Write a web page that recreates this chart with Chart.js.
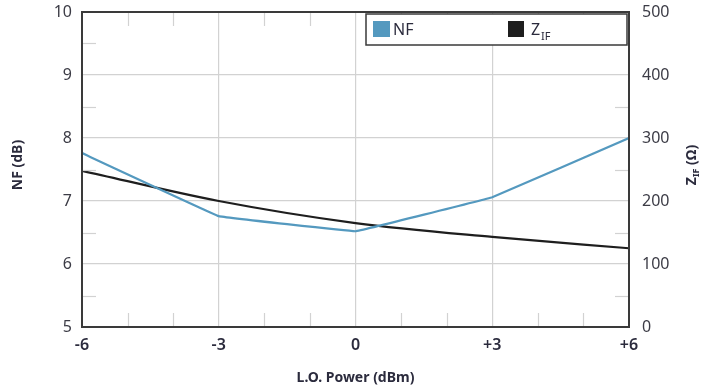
<!DOCTYPE html>
<html>
<head>
<meta charset="utf-8">
<script src="https://cdn.jsdelivr.net/npm/chart.js@4.4.1/dist/chart.umd.min.js"></script>
<style>
  html, body { margin: 0; padding: 0; background: #fff; }
  #wrap { width: 703px; height: 389px; position: relative; }
</style>
</head>
<body>
<div id="wrap"><canvas id="c" width="703" height="389"></canvas></div>
<script>
// L.O. power sweep (dBm)
const loPower = [-6, -3, 0, 3, 6];
// Noise figure (dB), left axis
const nfValues = [7.76, 6.76, 6.52, 7.06, 8.0];
// IF impedance (ohms), right axis
const zifValues = [248, 200, 165, 143, 125];
// Tick label values for the x axis
const xTicks = [-6, -3, 0, 3, 6];

const BLUE = '#5499bf';
const BLACK = '#1e1e1e';
const GRID = '#d2d2d2';
const FRAME = '#3a3a3a';
const TEXT = '#2b2b3d';
const TICK = '#3c3c46';
const FONT = "'Noto Sans', 'Open Sans', sans-serif";

function fmtX(v) { return v > 0 ? '+' + v : String(v); }

// keep the plot frame fixed: no extra room reserved for overhanging labels
function fixPadding(s) {
  s.paddingTop = 0; s.paddingBottom = 0; s.paddingLeft = 0; s.paddingRight = 0;
}

// Frame, minor ticks, axis titles and legend
const decor = {
  id: 'decor',
  afterDatasetsDraw(chart) {
    const { ctx, chartArea: a, scales } = chart;
    const x = scales.x, y = scales.y, y2 = scales.y2;
    ctx.save();
    // minor ticks
    ctx.strokeStyle = GRID;
    ctx.lineWidth = 1.2;
    const L = 14;
    [5.5, 6.5, 7.5, 8.5, 9.5].forEach(v => {
      const py = Math.round(y.getPixelForValue(v)) + 0.5;
      ctx.beginPath(); ctx.moveTo(a.left, py); ctx.lineTo(a.left + L, py); ctx.stroke();
    });
    [50, 150, 250, 350, 450].forEach(v => {
      const py = Math.round(y2.getPixelForValue(v)) + 0.5;
      ctx.beginPath(); ctx.moveTo(a.right, py); ctx.lineTo(a.right - L, py); ctx.stroke();
    });
    [-5, -4, -2, -1, 1, 2, 4, 5].forEach(v => {
      const px = Math.round(x.getPixelForValue(v)) + 0.5;
      ctx.beginPath(); ctx.moveTo(px, a.bottom); ctx.lineTo(px, a.bottom - L); ctx.stroke();
      ctx.beginPath(); ctx.moveTo(px, a.top); ctx.lineTo(px, a.top + L); ctx.stroke();
    });
    // frame
    ctx.strokeStyle = FRAME;
    ctx.lineWidth = 2;
    ctx.strokeRect(a.left, a.top, a.right - a.left, a.bottom - a.top);

    // legend
    const lx = 366, ly = 14, lw = 261, lh = 31;
    ctx.fillStyle = '#fff';
    ctx.fillRect(lx, ly, lw, lh);
    ctx.strokeStyle = FRAME;
    ctx.lineWidth = 1.5;
    ctx.strokeRect(lx, ly, lw, lh);
    ctx.fillStyle = BLUE;
    ctx.fillRect(373, 21, 17, 16);
    ctx.fillStyle = BLACK;
    ctx.fillRect(508, 21, 16, 16);
    ctx.fillStyle = TEXT;
    ctx.font = '16px ' + FONT;
    ctx.textBaseline = 'alphabetic';
    ctx.textAlign = 'left';
    ctx.fillText('NF', 393, 35);
    ctx.fillText('Z', 531, 35);
    ctx.font = '11px ' + FONT;
    ctx.fillText('IF', 541, 40);

    // x title
    ctx.font = 'bold 14px ' + FONT;
    ctx.textAlign = 'center';
    ctx.textBaseline = 'middle';
    ctx.fillStyle = TEXT;
    ctx.fillText('L.O. Power (dBm)', (a.left + a.right) / 2, 378);

    // left title
    ctx.save();
    ctx.translate(18, 165);
    ctx.rotate(-Math.PI / 2);
    ctx.fillText('NF (dB)', 0, 0);
    ctx.restore();

    // right title with subscript
    ctx.save();
    ctx.translate(692, 165);
    ctx.rotate(-Math.PI / 2);
    ctx.textAlign = 'left';
    const zW = ctx.measureText('Z').width;
    ctx.font = 'bold 9px ' + FONT;
    const sW = ctx.measureText('IF').width;
    ctx.font = 'bold 14px ' + FONT;
    const rest = ' (\u03A9)';
    const rW = ctx.measureText(rest).width;
    let sx = -(zW + sW + rW) / 2;
    ctx.fillText('Z', sx, 0);
    ctx.font = 'bold 9px ' + FONT;
    ctx.fillText('IF', sx + zW, 4);
    ctx.font = 'bold 14px ' + FONT;
    ctx.fillText(rest, sx + zW + sW, 0);
    ctx.restore();

    ctx.restore();
  }
};

new Chart(document.getElementById('c'), {
  type: 'line',
  data: {
    datasets: [
      {
        label: 'NF',
        data: loPower.map((v, i) => ({ x: v, y: nfValues[i] })),
        borderColor: BLUE,
        borderWidth: 2.2,
        pointRadius: 0,
        tension: 0.03,
        yAxisID: 'y'
      },
      {
        label: 'ZIF',
        data: loPower.map((v, i) => ({ x: v, y: zifValues[i] })),
        borderColor: BLACK,
        borderWidth: 2.2,
        pointRadius: 0,
        cubicInterpolationMode: 'monotone',
        yAxisID: 'y2'
      }
    ]
  },
  options: {
    responsive: false,
    animation: false,
    layout: { padding: { top: 12, bottom: 0, left: 0, right: 0 } },
    plugins: { legend: { display: false }, tooltip: { enabled: false } },
    scales: {
      x: {
        type: 'linear',
        min: -6, max: 6,
        afterBuildTicks: s => { s.ticks = xTicks.map(v => ({ value: v })); },
        afterFit: s => { s.height = 62; fixPadding(s); },
        grid: { color: GRID, lineWidth: 1.2, drawTicks: false },
        border: { display: false },
        ticks: {
          padding: 9,
          color: TEXT,
          font: { size: 16, family: FONT, weight: '600' },
          callback: v => fmtX(v)
        }
      },
      y: {
        position: 'left',
        min: 5, max: 10,
        afterFit: s => { s.width = 82; fixPadding(s); },
        grid: { color: GRID, lineWidth: 1.2, drawTicks: false },
        border: { display: false },
        ticks: {
          stepSize: 1,
          padding: 10,
          color: TICK,
          font: { size: 16, family: FONT }
        }
      },
      y2: {
        position: 'right',
        min: 0, max: 500,
        afterFit: s => { s.width = 74; fixPadding(s); },
        grid: { drawOnChartArea: false, drawTicks: false },
        border: { display: false },
        ticks: {
          stepSize: 100,
          padding: 13,
          color: TICK,
          font: { size: 16, family: FONT }
        }
      }
    }
  },
  plugins: [decor]
});
</script>
</body>
</html>
